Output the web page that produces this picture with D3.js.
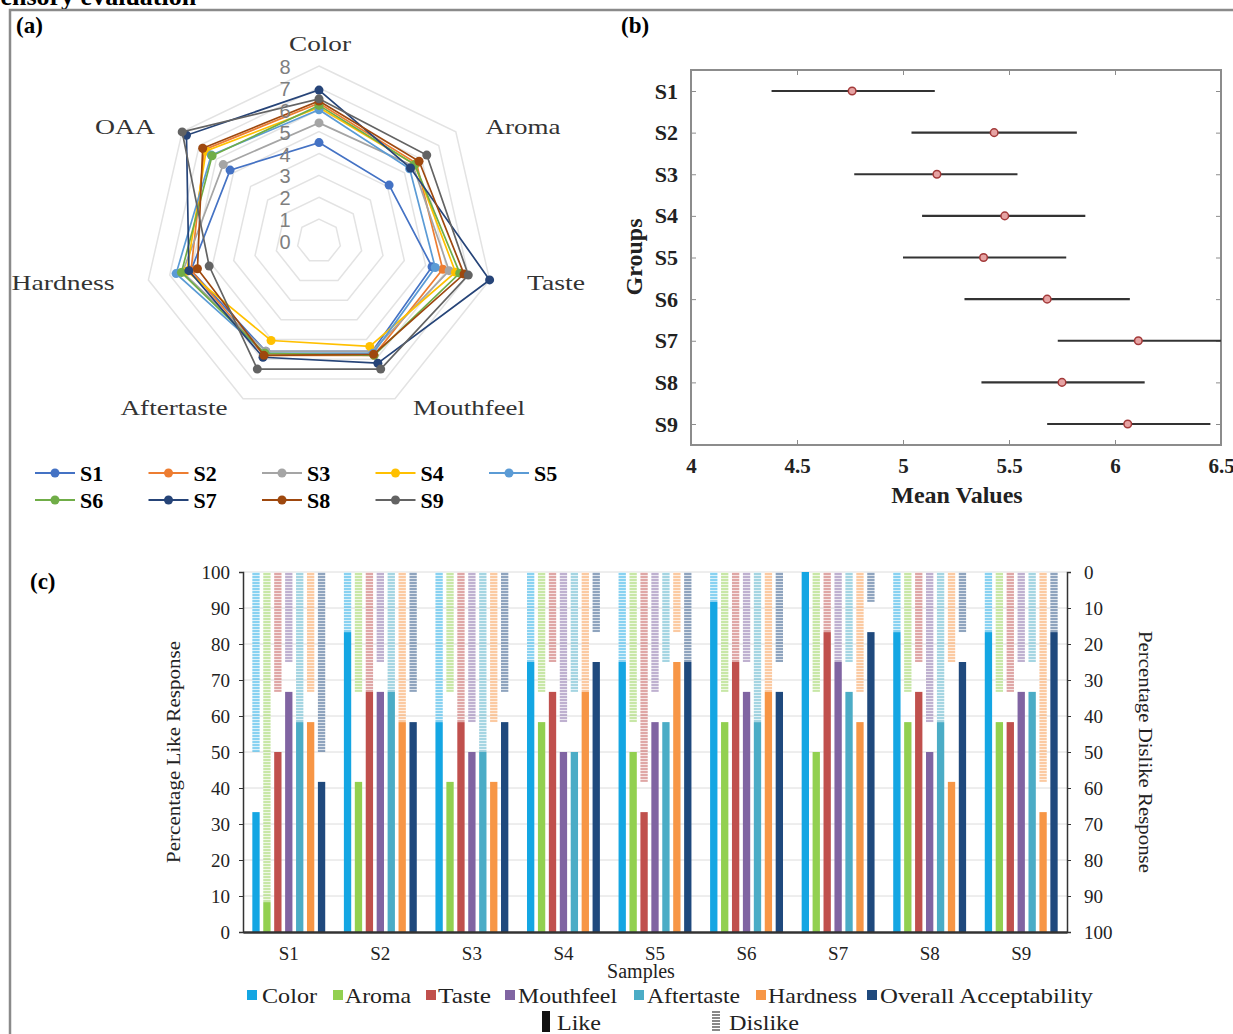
<!DOCTYPE html>
<html lang="en">
<head>
<meta charset="UTF-8">
<title>Sensory evaluation</title>
<script src="https://d3js.org/d3.v7.min.js"></script>
<style>
  body { margin: 0; background: #fff; }
  svg text { font-family: "Liberation Serif", "Times New Roman", serif; }
</style>
</head>
<body>
<div id="chart"></div>
<script>
// ---------- data ----------
var samples = ["S1", "S2", "S3", "S4", "S5", "S6", "S7", "S8", "S9"];

// (a) radar, mean scores per attribute
var radarAxes = ["Color", "Aroma", "Taste", "Mouthfeel", "Aftertaste", "Hardness", "OAA"];
var radarTicks = [0, 1, 2, 3, 4, 5, 6, 7, 8];
var radarS1 = [4.5, 4.1, 5.3, 5.6, 5.6, 6.0, 5.2];
var radarS2 = [6.3, 5.7, 5.8, 5.8, 5.8, 6.0, 6.7];
var radarS3 = [5.4, 5.5, 6.1, 5.6, 5.6, 6.4, 5.6];
var radarS4 = [6.1, 5.6, 6.4, 5.35, 5.05, 6.2, 6.6];
var radarS5 = [6.0, 5.3, 5.45, 5.7, 5.7, 6.7, 6.3];
var radarS6 = [6.2, 5.6, 6.6, 5.8, 5.7, 6.45, 6.25];
var radarS7 = [6.9, 5.35, 8.0, 6.2, 5.9, 6.1, 7.75];
var radarS8 = [6.4, 5.85, 6.8, 5.75, 5.8, 5.7, 6.8];
var radarS9 = [6.5, 6.3, 7.0, 6.5, 6.5, 5.15, 8.0];
var radarColors = ["#4472c4", "#ed7d31", "#a5a5a5", "#ffc000", "#5b9bd5", "#70ad47", "#264478", "#9e480e", "#636363"];

// (b) mean values with intervals
var meanValues = [4.76, 5.43, 5.16, 5.48, 5.38, 5.68, 6.11, 5.75, 6.06];
var lowerValues = [4.38, 5.04, 4.77, 5.09, 5.00, 5.29, 5.73, 5.37, 5.68];
var upperValues = [5.15, 5.82, 5.54, 5.86, 5.77, 6.07, 6.50, 6.14, 6.45];
var meanTicks = [4, 4.5, 5, 5.5, 6, 6.5];

// (c) like / dislike percentages
var attributes = ["Color", "Aroma", "Taste", "Mouthfeel", "Aftertaste", "Hardness", "Overall Acceptability"];
var attrColors = ["#14a6e3", "#92d050", "#c0504d", "#8064a2", "#4bacc6", "#f79646", "#1f497d"];
var likeColor      = [33.3, 83.3, 58.3, 75, 75, 91.7, 100, 83.3, 83.3];
var likeAroma      = [8.3, 41.7, 41.7, 58.3, 50, 58.3, 50, 58.3, 58.3];
var likeTaste      = [50, 66.7, 58.3, 66.7, 33.3, 75, 83.3, 66.7, 58.3];
var likeMouthfeel  = [66.7, 66.7, 50, 50, 58.3, 66.7, 75, 50, 66.7];
var likeAftertaste = [58.3, 66.7, 50, 50, 58.3, 58.3, 66.7, 58.3, 66.7];
var likeHardness   = [58.3, 58.3, 41.7, 66.7, 75, 66.7, 58.3, 41.7, 33.3];
var likeOverall    = [41.7, 58.3, 58.3, 75, 75, 66.7, 83.3, 75, 83.3];
var dislikeColor      = [50, 16.7, 41.7, 25, 25, 8.3, 0, 16.7, 16.7];
var dislikeAroma      = [91.7, 33.3, 33.3, 33.3, 41.7, 33.3, 33.3, 33.3, 33.3];
var dislikeTaste      = [33.3, 33.3, 41.7, 25, 58.3, 25, 16.7, 25, 33.3];
var dislikeMouthfeel  = [25, 25, 41.7, 41.7, 33.3, 25, 25, 41.7, 25];
var dislikeAftertaste = [41.7, 33.3, 50, 33.3, 25, 41.7, 25, 41.7, 25];
var dislikeHardness   = [33.3, 41.7, 41.7, 33.3, 16.7, 33.3, 33.3, 25, 58.3];
var dislikeOverall    = [50, 33.3, 33.3, 16.7, 25, 25, 8.3, 16.7, 16.7];
var percentTicks = [0, 10, 20, 30, 40, 50, 60, 70, 80, 90, 100];

var radarSeries = [radarS1, radarS2, radarS3, radarS4, radarS5, radarS6, radarS7, radarS8, radarS9];
var likeSeries = [likeColor, likeAroma, likeTaste, likeMouthfeel, likeAftertaste, likeHardness, likeOverall];
var dislikeSeries = [dislikeColor, dislikeAroma, dislikeTaste, dislikeMouthfeel, dislikeAftertaste, dislikeHardness, dislikeOverall];

// ---------- svg ----------
var svg = d3.select("#chart").append("svg")
    .attr("width", 1233)
    .attr("height", 1034);

// frame + heading (cut by the top edge, as in the source)
svg.append("text").attr("x", -14).attr("y", 5)
  .text("Sensory evaluation")
  .style("font-size", "26px").style("font-weight", "bold");
svg.append("rect")
  .attr("x", 10).attr("y", 10).attr("width", 1240).attr("height", 1040)
  .attr("fill", "none").attr("stroke", "#8a8a8a").attr("stroke-width", 2.5);

svg.append("text").attr("x", 16).attr("y", 33).text("(a)")
  .style("font-size", "23px").style("font-weight", "bold");
svg.append("text").attr("x", 621).attr("y", 33).text("(b)")
  .style("font-size", "23px").style("font-weight", "bold");
svg.append("text").attr("x", 30).attr("y", 589).text("(c)")
  .style("font-size", "23px").style("font-weight", "bold");

// ---------- (a) radar ----------
var cx = 319, cy = 241;
var r = d3.scaleLinear().domain([0, 8]).range([0, 175]);
var angleOf = function(i) { return i * 2 * Math.PI / radarAxes.length; };
var pt = function(v, i) { return [cx + r(v) * Math.sin(angleOf(i)), cy - r(v) * Math.cos(angleOf(i))]; };
var closedLine = d3.line().curve(d3.curveLinearClosed);

var radar = svg.append("g");
radarTicks.slice(1).forEach(function(t) {
  radar.append("path")
    .attr("d", closedLine(radarAxes.map(function(a, i) { return pt(t, i); })))
    .attr("fill", "none").attr("stroke", "#e3e3e3").attr("stroke-width", 1.5);
});

radarSeries.forEach(function(vals, s) {
  var g = radar.append("g");
  g.append("path")
    .attr("d", closedLine(vals.map(function(v, i) { return pt(v, i); })))
    .attr("fill", "none").attr("stroke", radarColors[s]).attr("stroke-width", 1.7);
  g.selectAll("circle").data(vals).enter().append("circle")
    .attr("cx", function(v, i) { return pt(v, i)[0]; })
    .attr("cy", function(v, i) { return pt(v, i)[1]; })
    .attr("r", 4.5)
    .attr("fill", radarColors[s]);
});

radar.selectAll(".rtick").data(radarTicks).enter().append("text")
  .attr("x", 285).attr("y", function(d) { return cy - r(d) + 8; })
  .attr("text-anchor", "middle")
  .style("font-family", "'Liberation Sans', Arial, sans-serif")
  .style("font-size", "20px").attr("fill", "#7f7f7f")
  .text(function(d) { return d; });

// label centre x, baseline y, drawn width
var axisLabelPos = [[320, 51, 62], [523, 134, 75], [556, 290, 58], [469, 415, 112], [174, 415, 107], [63, 290, 103], [125, 134, 60]];
radar.selectAll(".rlab").data(radarAxes).enter().append("text")
  .attr("x", function(d, i) { return axisLabelPos[i][0] - axisLabelPos[i][2] / 2; })
  .attr("y", function(d, i) { return axisLabelPos[i][1]; })
  .attr("textLength", function(d, i) { return axisLabelPos[i][2]; })
  .attr("lengthAdjust", "spacingAndGlyphs")
  .style("font-size", "22px").attr("fill", "#333")
  .text(function(d) { return d; });

// legend (a)
samples.forEach(function(s, i) {
  var lx = 35 + (i % 5) * 113.5, ly = i < 5 ? 473 : 500;
  svg.append("line").attr("x1", lx).attr("x2", lx + 40).attr("y1", ly).attr("y2", ly)
    .attr("stroke", radarColors[i]).attr("stroke-width", 1.8);
  svg.append("circle").attr("cx", lx + 20).attr("cy", ly).attr("r", 4.5).attr("fill", radarColors[i]);
  svg.append("text").attr("x", lx + 45).attr("y", ly + 8).text(s)
    .style("font-size", "22px").style("font-weight", "bold");
});

// ---------- (b) mean values ----------
var bx = d3.scaleLinear().domain([4, 6.5]).range([691, 1221]);
var by = d3.scalePoint().domain(samples).range([91, 424]).padding(0);
var bTop = 70, bBottom = 445;
var pb = svg.append("g");

pb.append("rect").attr("x", 691).attr("y", bTop).attr("width", 530).attr("height", bBottom - bTop)
  .attr("fill", "none").attr("stroke", "#8c8c8c").attr("stroke-width", 2);

pb.append("g").attr("transform", "translate(0," + bBottom + ")")
  .call(d3.axisBottom(bx).tickValues(meanTicks).tickSize(-5).tickPadding(13).tickFormat(d3.format("")))
  .call(function(g) {
    g.select(".domain").remove();
    g.selectAll("line").attr("stroke", "#8c8c8c");
    g.selectAll("text").style("font-family", "'Liberation Serif', serif")
      .style("font-size", "21px").style("font-weight", "bold").attr("fill", "#222");
  });
pb.append("g").attr("transform", "translate(0," + bTop + ")")
  .call(d3.axisTop(bx).tickValues(meanTicks).tickSize(-5).tickFormat(""))
  .call(function(g) { g.select(".domain").remove(); g.selectAll("line").attr("stroke", "#8c8c8c"); });
pb.append("g").attr("transform", "translate(691,0)")
  .call(d3.axisLeft(by).tickSize(-5).tickPadding(13))
  .call(function(g) {
    g.select(".domain").remove();
    g.selectAll("line").attr("stroke", "#8c8c8c");
    g.selectAll("text").style("font-family", "'Liberation Serif', serif")
      .style("font-size", "22px").style("font-weight", "bold").attr("fill", "#222");
  });
pb.append("g").attr("transform", "translate(1221,0)")
  .call(d3.axisRight(by).tickSize(-5).tickFormat(""))
  .call(function(g) { g.select(".domain").remove(); g.selectAll("line").attr("stroke", "#8c8c8c"); });

pb.selectAll(".ci").data(samples).enter().append("line")
  .attr("x1", function(d, i) { return bx(lowerValues[i]); })
  .attr("x2", function(d, i) { return bx(upperValues[i]); })
  .attr("y1", function(d) { return by(d); })
  .attr("y2", function(d) { return by(d); })
  .attr("stroke", "#333").attr("stroke-width", 2.2);
pb.selectAll(".mean").data(samples).enter().append("circle")
  .attr("cx", function(d, i) { return bx(meanValues[i]); })
  .attr("cy", function(d) { return by(d); })
  .attr("r", 3.8)
  .attr("fill", "#e6a3a3").attr("stroke", "#a33a3a").attr("stroke-width", 1.5);

pb.append("text").attr("x", 957).attr("y", 503).attr("text-anchor", "middle")
  .text("Mean Values").style("font-size", "24px").style("font-weight", "bold").attr("fill", "#222");
pb.append("text").attr("transform", "translate(642,257) rotate(-90)").attr("text-anchor", "middle")
  .text("Groups").style("font-size", "24px").style("font-weight", "bold").attr("fill", "#222");

// ---------- (c) like / dislike bars ----------
var cLeft = 243, cRight = 1067, cTop = 572, cBottom = 932;
var x0 = d3.scaleBand().domain(samples).range([cLeft, cRight]);
var x1 = d3.scaleBand().domain(attributes)
  .range([(x0.bandwidth() - 76.5) / 2, (x0.bandwidth() + 76.5) / 2]).paddingInner(0.33).paddingOuter(0.165);
var yL = d3.scaleLinear().domain([0, 100]).range([cBottom, cTop]);
var yR = d3.scaleLinear().domain([0, 100]).range([cTop, cBottom]);

var defs = svg.append("defs");
attrColors.forEach(function(c, i) {
  var p = defs.append("pattern").attr("id", "hatch" + i)
    .attr("patternUnits", "userSpaceOnUse").attr("width", 12).attr("height", 3);
  p.append("rect").attr("width", 12).attr("height", 3).attr("fill", c).attr("fill-opacity", 0.5);
  p.append("rect").attr("y", 2).attr("width", 12).attr("height", 1).attr("fill", "#fff").attr("fill-opacity", 0.7);
});
var gp = defs.append("pattern").attr("id", "hatchGray")
  .attr("patternUnits", "userSpaceOnUse").attr("width", 12).attr("height", 3);
gp.append("rect").attr("width", 12).attr("height", 3).attr("fill", "#888");
gp.append("rect").attr("y", 2).attr("width", 12).attr("height", 1).attr("fill", "#fff");

var pc = svg.append("g");

// gridlines
pc.selectAll(".grid").data(percentTicks.slice(1)).enter().append("line")
  .attr("x1", cLeft).attr("x2", cRight)
  .attr("y1", function(d) { return yL(d); }).attr("y2", function(d) { return yL(d); })
  .attr("stroke", "#dcdcdc").attr("stroke-width", 1);

var groups = pc.selectAll(".grp").data(samples).enter().append("g")
  .attr("transform", function(d) { return "translate(" + x0(d) + ",0)"; });

attributes.forEach(function(a, k) {
  groups.append("rect")
    .attr("x", x1(a)).attr("width", x1.bandwidth())
    .attr("y", yR(0))
    .attr("height", function(d, i) { return yR(dislikeSeries[k][i]) - yR(0); })
    .attr("fill", "url(#hatch" + k + ")");
  groups.append("rect")
    .attr("x", x1(a)).attr("width", x1.bandwidth())
    .attr("y", function(d, i) { return yL(likeSeries[k][i]); })
    .attr("height", function(d, i) { return cBottom - yL(likeSeries[k][i]); })
    .attr("fill", attrColors[k]);
});

var styleTicks = function(g) {
  g.selectAll("text").style("font-family", "'Liberation Serif', serif").style("font-size", "19px").attr("fill", "#222");
  g.select(".domain").attr("stroke", "#333").attr("stroke-width", 1.5);
  g.selectAll("line").attr("stroke", "#333");
};
pc.append("g").attr("transform", "translate(" + cLeft + ",0)")
  .call(d3.axisLeft(yL).tickValues(percentTicks).tickSizeOuter(0).tickSize(4).tickPadding(9))
  .call(styleTicks);
pc.append("g").attr("transform", "translate(" + cRight + ",0)")
  .call(d3.axisRight(yR).tickValues(percentTicks).tickSizeOuter(0).tickSize(4).tickPadding(13))
  .call(styleTicks);
pc.append("g").attr("transform", "translate(0," + cBottom + ")")
  .call(d3.axisBottom(x0).tickSize(0).tickPadding(15))
  .call(styleTicks)
  .call(function(g) { g.select(".domain").attr("stroke-width", 2.5); });

pc.append("text").attr("x", 641).attr("y", 978).attr("text-anchor", "middle")
  .text("Samples").style("font-size", "20px").attr("fill", "#222");
pc.append("text").attr("transform", "translate(180,752) rotate(-90)")
  .attr("x", -111).attr("textLength", 222).attr("lengthAdjust", "spacingAndGlyphs")
  .text("Percentage Like Response").style("font-size", "19px").attr("fill", "#222");
pc.append("text").attr("transform", "translate(1139,752) rotate(90)")
  .attr("x", -121).attr("textLength", 242).attr("lengthAdjust", "spacingAndGlyphs")
  .text("Percentage Dislike Response").style("font-size", "19px").attr("fill", "#222");

// legend (c): square x, text start, text width
var legendPos = [[247, 262, 55], [333, 345, 66], [426, 438, 53], [505, 518, 99], [634, 647, 93], [756, 768, 89], [867, 880, 213]];
attributes.forEach(function(a, k) {
  pc.append("rect").attr("x", legendPos[k][0]).attr("y", 990).attr("width", 10).attr("height", 10).attr("fill", attrColors[k]);
  pc.append("text").attr("x", legendPos[k][1]).attr("y", 1003).text(a)
    .attr("textLength", legendPos[k][2]).attr("lengthAdjust", "spacingAndGlyphs")
    .style("font-size", "21px").attr("fill", "#222");
});
pc.append("rect").attr("x", 542).attr("y", 1011).attr("width", 8).attr("height", 21).attr("fill", "#111");
pc.append("text").attr("x", 557).attr("y", 1030).text("Like")
  .attr("textLength", 44).attr("lengthAdjust", "spacingAndGlyphs").style("font-size", "21px").attr("fill", "#222");
pc.append("rect").attr("x", 712).attr("y", 1011).attr("width", 8).attr("height", 21).attr("fill", "url(#hatchGray)");
pc.append("text").attr("x", 729).attr("y", 1030).text("Dislike")
  .attr("textLength", 70).attr("lengthAdjust", "spacingAndGlyphs").style("font-size", "21px").attr("fill", "#222");
</script>
</body>
</html>
